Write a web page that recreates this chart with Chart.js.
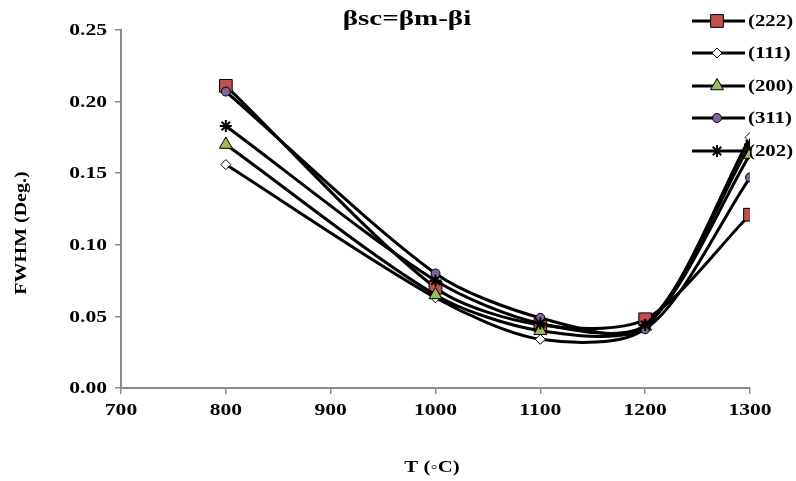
<!DOCTYPE html>
<html>
<head>
<meta charset="utf-8">
<script src="https://cdn.jsdelivr.net/npm/chart.js@4.4.0/dist/chart.umd.min.js"></script>
<style>
  html, body { margin: 0; padding: 0; background: #fff; }
  #wrap { width: 796px; height: 481px; }
</style>
</head>
<body>
<div id="wrap"><canvas id="myChart" width="796" height="481"></canvas></div>
<script>
// températures de recuit (°C)
const temperatures = [800, 1000, 1100, 1200, 1300];
// largeur à mi-hauteur corrigée βsc pour chaque pic (deg.)
const fwhm222 = [0.211, 0.070, 0.044, 0.048, 0.121];
const fwhm111 = [0.156, 0.063, 0.034, 0.042, 0.175];
const fwhm200 = [0.170, 0.065, 0.040, 0.043, 0.163];
const fwhm311 = [0.207, 0.080, 0.049, 0.041, 0.147];
const fwhm202 = [0.183, 0.075, 0.045, 0.044, 0.170];
const pics = ['(222)', '(111)', '(200)', '(311)', '(202)'];
// graduations des axes
const xTicks = [700, 800, 900, 1000, 1100, 1200, 1300];
const yTicks = [0, 0.05, 0.10, 0.15, 0.20, 0.25];

const serif = '"Liberation Serif", "Times New Roman", serif';
const axisGray = '#8a8a8a';

// style des marqueurs par pic
const markers = [
  { style: 'rect', radius: 9, fill: '#C0504D' },
  { style: 'rectRot', radius: 5, fill: '#ffffff' },
  { style: 'triangle', radius: 7.5, fill: '#9BBB59' },
  { style: 'circle', radius: 4.5, fill: '#8064A2' },
  { style: 'star', radius: 6, fill: '#000000' }
];
const series = [fwhm222, fwhm111, fwhm200, fwhm311, fwhm202];

function toPoints(values) {
  return temperatures.map((t, i) => ({ x: t, y: values[i] }));
}

// texte étiré horizontalement (police large)
function drawText(ctx, text, x, y, size, align, sx, angle) {
  ctx.save();
  ctx.translate(x, y);
  if (angle) ctx.rotate(angle);
  ctx.scale(sx, 1);
  ctx.font = 'bold ' + size + 'px ' + serif;
  ctx.fillStyle = '#000';
  ctx.textAlign = align;
  ctx.textBaseline = 'middle';
  ctx.fillText(text, 0, 0);
  ctx.restore();
}

function drawMarker(ctx, m, x, y) {
  const r = m.radius;
  ctx.save();
  ctx.fillStyle = m.fill;
  ctx.strokeStyle = '#000';
  ctx.lineWidth = 1;
  ctx.beginPath();
  if (m.style === 'rect') {
    const s = Math.SQRT1_2 * r;
    ctx.rect(x - s, y - s, 2 * s, 2 * s);
  } else if (m.style === 'rectRot') {
    ctx.moveTo(x - r, y); ctx.lineTo(x, y - r); ctx.lineTo(x + r, y); ctx.lineTo(x, y + r); ctx.closePath();
  } else if (m.style === 'triangle') {
    let a = 0;
    ctx.moveTo(x + Math.sin(a) * r, y - Math.cos(a) * r);
    a += 2 * Math.PI / 3;
    ctx.lineTo(x + Math.sin(a) * r, y - Math.cos(a) * r);
    a += 2 * Math.PI / 3;
    ctx.lineTo(x + Math.sin(a) * r, y - Math.cos(a) * r);
    ctx.closePath();
  } else if (m.style === 'circle') {
    ctx.arc(x, y, r, 0, Math.PI * 2);
  } else {
    ctx.lineWidth = 2;
    for (let k = 0; k < 4; k++) {
      const a = k * Math.PI / 4;
      ctx.moveTo(x - Math.cos(a) * r, y - Math.sin(a) * r);
      ctx.lineTo(x + Math.cos(a) * r, y + Math.sin(a) * r);
    }
    ctx.stroke();
    ctx.restore();
    return;
  }
  ctx.fill();
  ctx.stroke();
  ctx.restore();
}

// légende à droite, dessinée sous les courbes
const legendPlugin = {
  id: 'legendePics',
  beforeDatasetsDraw(chart) {
    const ctx = chart.ctx;
    const rows = [21, 53, 86, 118, 151];
    pics.forEach((nom, i) => {
      const y = rows[i];
      ctx.save();
      ctx.strokeStyle = '#000';
      ctx.lineWidth = 3;
      ctx.beginPath();
      ctx.moveTo(692, y);
      ctx.lineTo(745, y);
      ctx.stroke();
      ctx.restore();
      drawMarker(ctx, markers[i], 717, y);
      drawText(ctx, nom, 748, y + 1, 16, 'left', 1.3);
    });
  }
};

// titres et étiquettes des axes
const textPlugin = {
  id: 'textes',
  afterDraw(chart) {
    const ctx = chart.ctx;
    const sx = chart.scales.x;
    const sy = chart.scales.y;
    sx.ticks.forEach(t => {
      drawText(ctx, String(t.value), sx.getPixelForValue(t.value), 411, 16, 'center', 1.35);
    });
    sy.ticks.forEach(t => {
      drawText(ctx, t.value.toFixed(2), 107, sy.getPixelForValue(t.value) + 1, 16, 'right', 1.35);
    });
    drawText(ctx, 'βsc=βm-βi', 407, 20, 20, 'center', 1.45);
    drawText(ctx, 'T (◦C)', 432, 468, 16, 'center', 1.3);
    drawText(ctx, 'FWHM (Deg.)', 22, 233, 16, 'center', 1.25, -Math.PI / 2);
  }
};

const datasets = series.map((values, i) => ({
  label: pics[i],
  data: toPoints(values),
  borderColor: '#000',
  borderWidth: 3,
  tension: 0.28,
  pointStyle: markers[i].style,
  pointRadius: markers[i].radius,
  pointBackgroundColor: markers[i].fill,
  pointBorderColor: '#000',
  pointBorderWidth: markers[i].style === 'star' ? 2 : 1,
  order: series.length - i
}));

const ctx = document.getElementById('myChart').getContext('2d');
const myChart = new Chart(ctx, {
  type: 'line',
  data: { datasets: datasets },
  options: {
    responsive: false,
    animation: false,
    devicePixelRatio: 1,
    layout: { padding: { left: 0, right: 46, top: 30, bottom: 0 } },
    plugins: { legend: { display: false }, title: { display: false }, tooltip: { enabled: false } },
    scales: {
      x: {
        type: 'linear',
        min: 700,
        max: 1300,
        afterBuildTicks: scale => { scale.ticks = xTicks.map(v => ({ value: v })); },
        afterFit: scale => { scale.height = 93; },
        ticks: { display: false },
        grid: { drawOnChartArea: false, drawTicks: true, tickLength: 6, color: axisGray, lineWidth: 1.5 },
        border: { color: axisGray, width: 2 }
      },
      y: {
        min: 0,
        max: 0.25,
        afterBuildTicks: scale => { scale.ticks = yTicks.map(v => ({ value: v })); },
        afterFit: scale => { scale.width = 121; },
        ticks: { display: false },
        grid: { drawOnChartArea: false, drawTicks: true, tickLength: 6, color: axisGray, lineWidth: 1.5 },
        border: { color: axisGray, width: 2 }
      }
    }
  },
  plugins: [legendPlugin, textPlugin]
});
</script>
</body>
</html>
